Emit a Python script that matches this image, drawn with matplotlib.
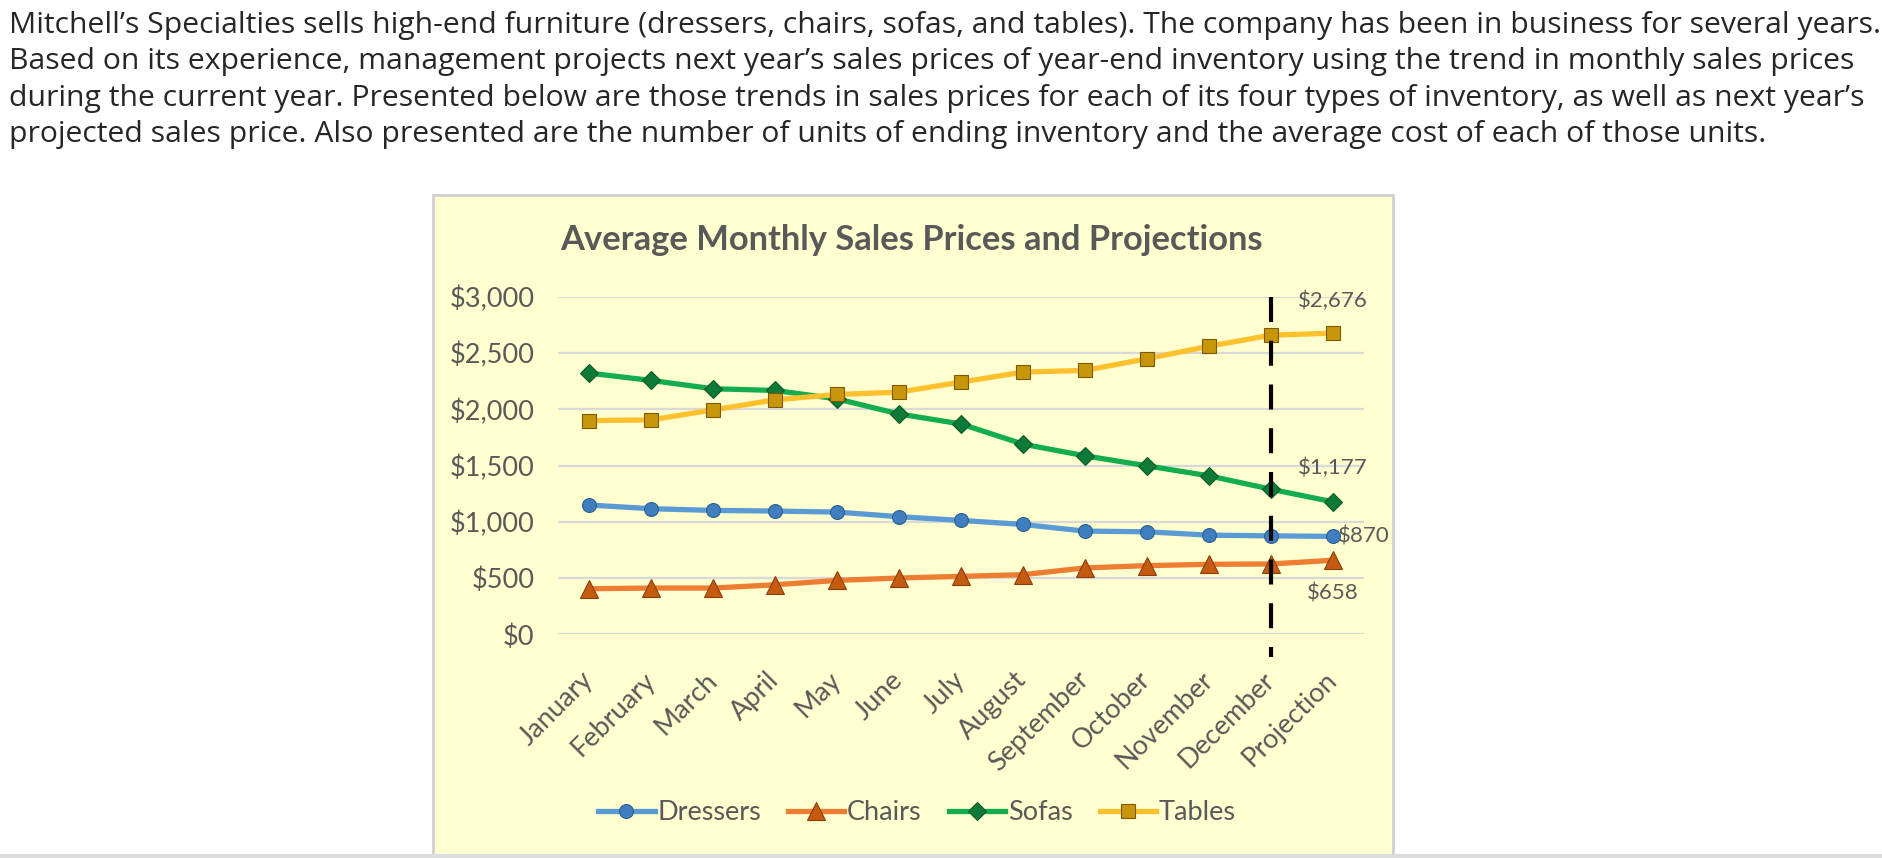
import matplotlib
matplotlib.use("Agg")
import matplotlib.pyplot as plt
from matplotlib.patches import Rectangle
from matplotlib.lines import Line2D

# ── Data ──────────────────────────────────────────────────────────────────────
months = ["January", "February", "March", "April", "May", "June", "July",
          "August", "September", "October", "November", "December", "Projection"]
dressers = [1149, 1116, 1101, 1095, 1086, 1045, 1012, 976, 917, 911, 881, 875, 870]
chairs   = [405, 411, 411, 440, 479, 500, 515, 530, 590, 610, 622, 625, 658]
sofas    = [2321, 2256, 2182, 2167, 2092, 1958, 1869, 1690, 1586, 1497, 1408, 1289, 1177]
tables   = [1899, 1905, 1994, 2083, 2131, 2152, 2241, 2330, 2345, 2449, 2560, 2658, 2676]
y_ticks  = [0, 500, 1000, 1500, 2000, 2500, 3000]

paragraph = [
    "Mitchell\u2019s Specialties sells high-end furniture (dressers, chairs, sofas, and tables). The company has been in business for several years.",
    "Based on its experience, management projects next year\u2019s sales prices of year-end inventory using the trend in monthly sales prices",
    "during the current year. Presented below are those trends in sales prices for each of its four types of inventory, as well as next year\u2019s",
    "projected sales price. Also presented are the number of units of ending inventory and the average cost of each of those units.",
]

# ── Figure geometry (pixels) ──────────────────────────────────────────────────
W, H = 1882, 858
GRAY = "#595959"
BG = "#FFFFD0"

fig = plt.figure(figsize=(W / 100, H / 100), dpi=100)
fig.patch.set_facecolor("white")

def fx(px): return px / W
def fy(py): return 1 - py / H

# intro text
for i, line in enumerate(paragraph):
    fig.text(fx(9), fy(25 + i * 36.6), line, fontsize=21.7, family="Open Sans",
             color="#262626", va="center", ha="left")

# chart box (drawn under the axes)
fig.patches.append(Rectangle((fx(433), fy(858)), fx(1393) - fx(433), fy(195) - fy(858),
                             transform=fig.transFigure, facecolor=BG,
                             edgecolor="#D0D0D0", linewidth=2, zorder=-2))
fig.add_artist(Line2D([0, 1], [fy(856), fy(856)], color="#DDDDDD", lw=3,
                      transform=fig.transFigure, zorder=-1))

ax = fig.add_axes([fx(558), fy(634.3), fx(1364) - fx(558), fy(296.7) - fy(634.3)])
ax.patch.set_alpha(0)
ax.set_zorder(2)
x = list(range(len(months)))

series = [
    ("Dressers", dressers, "#5B9BD5", "o", "#3F7FC0", "#2E5F90", 10),
    ("Chairs",   chairs,   "#ED7D31", "^", "#C55A11", "#8A3E0A", 13),
    ("Sofas",    sofas,    "#13AD50", "D", "#0E7A38", "#0A5A28", 9),
    ("Tables",   tables,   "#FFC02D", "s", "#C8960A", "#7A5A05", 10),
]
for name, vals, col, mk, mfc, mec, ms in series:
    ax.plot(x, vals, color=col, lw=3.8, marker=mk, markersize=ms,
            markerfacecolor=mfc, markeredgecolor=mec, markeredgewidth=0.8,
            label=name, zorder=3, solid_joinstyle="round")

# dashed divider at December
ax.plot([11, 11], [3000, -200], color="black", lw=3, dashes=(6, 4.5),
        clip_on=False, zorder=4)

ax.set_xlim(-0.5, 12.5)
ax.set_ylim(0, 3000)
ax.set_yticks(y_ticks)
ax.set_yticklabels([f"${v:,}" for v in y_ticks])
ax.yaxis.grid(True, color="#D9D9D9", lw=1.6)
ax.set_axisbelow(True)
for s in ax.spines.values():
    s.set_visible(False)
ax.tick_params(axis="y", length=0, pad=17, labelsize=19.5, labelcolor=GRAY)
ax.tick_params(axis="x", length=0, pad=30, labelsize=19.5, labelcolor=GRAY)
ax.set_xticks(x)
ax.set_xticklabels(months, rotation=45, ha="right", va="center", rotation_mode="anchor")
for lbl in ax.get_xticklabels() + ax.get_yticklabels():
    lbl.set_family("Lato")

# data labels on projection
lab = dict(fontsize=16, color=GRAY, family="Lato", textcoords="offset pixels")
ax.annotate("$2,676", (12, tables[-1]), xytext=(0, 32), ha="center", va="center", **lab)
ax.annotate("$1,177", (12, sofas[-1]), xytext=(0, 34), ha="center", va="center", **lab)
ax.annotate("$870", (12, dressers[-1]), xytext=(5, 0), ha="left", va="center", **lab)
ax.annotate("$658", (12, chairs[-1]), xytext=(0, -33), ha="center", va="center", **lab)

fig.text(fx(912), fy(240), "Average Monthly Sales Prices and Projections",
         fontsize=24.8, fontweight="bold", family="Lato", color=GRAY,
         ha="center", va="center")

leg = ax.legend(loc="center", bbox_to_anchor=(fx(917), fy(813)),
                bbox_transform=fig.transFigure, ncol=4, frameon=False,
                handlelength=2.08, columnspacing=1.0, handletextpad=0.1,
                prop={"family": "Lato", "size": 19.5})
for t in leg.get_texts():
    t.set_color(GRAY)

fig.savefig("out.png", dpi=100, facecolor="white")
